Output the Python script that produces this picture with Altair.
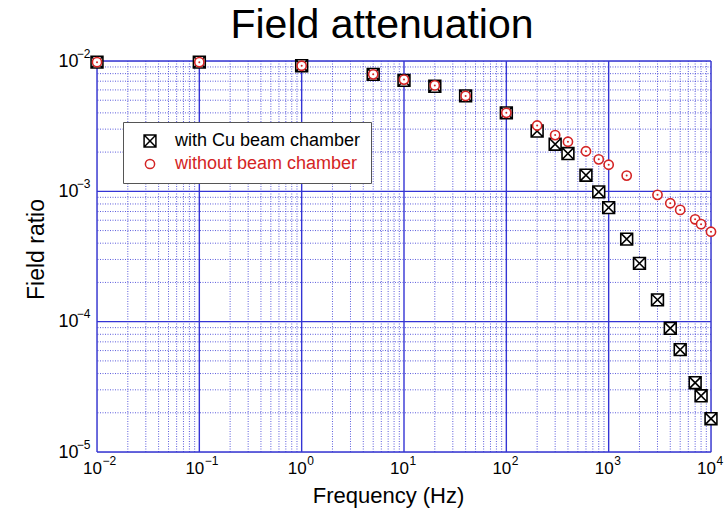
import altair as alt
import pandas as pd

# ---- data ----
freq_cu = [0.01, 0.1, 1, 5, 10, 20, 40, 100, 200, 300, 400, 600, 800, 1000,
           1500, 2000, 3000, 4000, 5000, 7000, 8000, 10000]
ratio_cu = [0.0098, 0.0098, 0.0092, 0.0079, 0.0071, 0.0064, 0.0054, 0.0040,
            0.0029, 0.0023, 0.00195, 0.00133, 0.00099, 0.00075, 0.00043,
            0.00028, 0.000147, 0.000089, 0.000061, 0.000034, 0.000027, 0.000018]

freq_no = [0.01, 0.1, 1, 5, 10, 20, 40, 100, 200, 300, 400, 600, 800, 1000,
           1500, 3000, 4000, 5000, 7000, 8000, 10000]
ratio_no = [0.0098, 0.0098, 0.0092, 0.0079, 0.0072, 0.0065, 0.0054, 0.0040,
            0.0032, 0.0027, 0.0024, 0.00203, 0.00176, 0.0016, 0.00132,
            0.00094, 0.00081, 0.00072, 0.00061, 0.00056, 0.00049]

series_names = ["with Cu beam chamber", "without beam chamber"]

x_major = [0.01, 0.1, 1, 10, 100, 1000, 10000]
y_major = [1e-5, 1e-4, 1e-3, 1e-2]
x_minor = [k * d for d in [0.01, 0.1, 1, 10, 100, 1000] for k in range(2, 10)]
y_minor = [k * d for d in [1e-5, 1e-4, 1e-3] for k in range(2, 10)]

FONT = "Liberation Sans, Arial, sans-serif"
BLUE = "#3434d4"
RED = "#d42424"

df = pd.concat([
    pd.DataFrame({"f": freq_cu, "r": ratio_cu, "s": series_names[0]}),
    pd.DataFrame({"f": freq_no, "r": ratio_no, "s": series_names[1]}),
], ignore_index=True)

xs = alt.Scale(type="log", domain=[0.01, 10000], nice=False)
ys = alt.Scale(type="log", domain=[1e-5, 1e-2], nice=False)

base_lab = "'10'"
exp_lab = "format(round(log(datum.value)/LN10), 'd')"

common = dict(grid=False, ticks=False, domain=False, labelFont=FONT,
              labelColor="black", labelFlush=False, labelOverlap=False,
              titleFont=FONT, titleFontWeight="normal", titleColor="black")

x_axis = alt.Axis(orient="bottom", values=x_major, labelExpr=base_lab,
                  title="Frequency (Hz)", labelFontSize=17, labelAlign="center",
                  labelOffset=-5, labelPadding=8, titleFontSize=22,
                  titlePadding=9, titleX=291, **common)
x_exp_axis = alt.Axis(orient="bottom", values=x_major, labelExpr=exp_lab,
                      title=None, labelFontSize=12, labelAlign="left",
                      labelOffset=5, labelPadding=3, **common)
y_axis = alt.Axis(orient="left", values=y_major, labelExpr=base_lab,
                  title="Field ratio", labelFontSize=18, labelAlign="right",
                  labelBaseline="middle", labelPadding=19, titleFontSize=23,
                  titlePadding=9, titleY=188, **common)
y_exp_axis = alt.Axis(orient="left", values=y_major, labelExpr=exp_lab,
                      title=None, labelFontSize=12, labelAlign="right",
                      labelBaseline="middle", labelPadding=7, labelOffset=-8,
                      **common)

minor_x = alt.Chart(pd.DataFrame({"f": x_minor})).mark_rule(
    color=BLUE, strokeDash=[1, 1.5], strokeWidth=1, opacity=0.8
).encode(x=alt.X("f:Q", scale=xs, axis=None))
minor_y = alt.Chart(pd.DataFrame({"r": y_minor})).mark_rule(
    color=BLUE, strokeDash=[1, 1.5], strokeWidth=1, opacity=0.8
).encode(y=alt.Y("r:Q", scale=ys, axis=None))
major_x = alt.Chart(pd.DataFrame({"f": x_major})).mark_rule(
    color=BLUE, strokeWidth=1.4
).encode(x=alt.X("f:Q", scale=xs, axis=x_exp_axis))
major_y = alt.Chart(pd.DataFrame({"r": y_major})).mark_rule(
    color=BLUE, strokeWidth=1.4
).encode(y=alt.Y("r:Q", scale=ys, axis=y_exp_axis))

square_x = "M-1,-1H1V1H-1Z M-1,-1L1,1 M-1,1L1,-1"

leg = alt.Legend(orient="none", legendX=26, legendY=61, padding=10,
                 strokeColor="#555555", fillColor="white", labelFont=FONT,
                 labelFontSize=18, labelLimit=400, labelOffset=16, rowPadding=5,
                 symbolOffset=8, symbolStrokeWidth=1.5, cornerRadius=0, title=None,
                 labelColor={"expr": "datum.label == 'without beam chamber' ? '%s' : 'black'" % RED})

points = alt.Chart(df).mark_point(filled=False, fill="white", strokeWidth=1.6, opacity=1).encode(
    x=alt.X("f:Q", scale=xs, axis=x_axis),
    y=alt.Y("r:Q", scale=ys, axis=y_axis),
    shape=alt.Shape("s:N", scale=alt.Scale(domain=series_names, range=[square_x, "circle"]),
                    legend=leg),
    stroke=alt.Stroke("s:N", scale=alt.Scale(domain=series_names, range=["black", RED]),
                      legend=leg),
    size=alt.Size("s:N", scale=alt.Scale(domain=series_names, range=[140, 85]),
                  legend=leg),
)

dots = alt.Chart(df).transform_filter(
    alt.datum.s == series_names[1]
).mark_point(filled=True, color=RED, size=4, opacity=1).encode(
    x=alt.X("f:Q", scale=xs, axis=None), y=alt.Y("r:Q", scale=ys, axis=None)
)

chart = alt.layer(minor_x, minor_y, major_x, major_y, points, dots).resolve_axis(
    x="independent", y="independent"
).properties(
    width=614, height=391,
    padding={"left": 97, "top": 61, "right": 14, "bottom": 60},
    autosize=alt.AutoSizeParams(type="none"),
    title=alt.TitleParams("Field attenuation", font=FONT, fontSize=41,
                          fontWeight="normal", color="black", anchor="middle",
                          offset=0, dx=-22),
).configure_view(
    stroke=BLUE, strokeWidth=1.5
).configure(background="white")

chart.save("out.html", embed_options={"renderer": "svg", "actions": False})
